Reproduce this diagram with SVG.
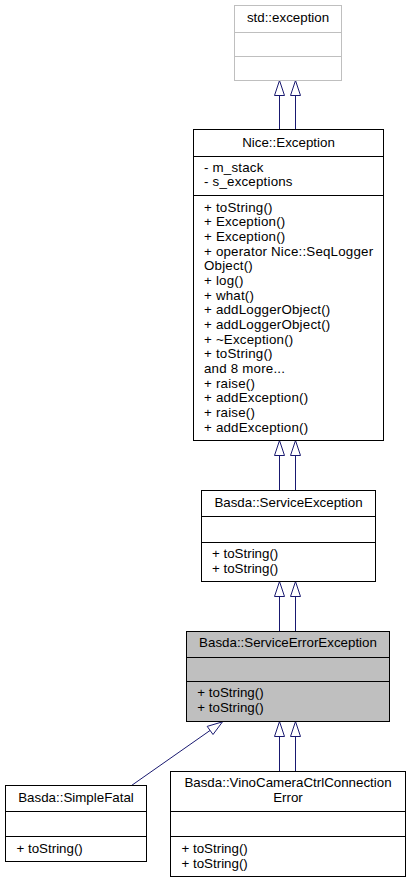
<svg xmlns="http://www.w3.org/2000/svg" width="411" height="883" viewBox="0 0 411 883">
<style>
text{font-family:"Liberation Sans",Arial,Helvetica,sans-serif;font-size:13.33px;fill:#000}
.c{text-anchor:middle}
.box{fill:#fff;stroke:#000;stroke-width:1}
.ext{fill:#fff;stroke:#bfbfbf;stroke-width:1}
.cur{fill:#bfbfbf;stroke:#000;stroke-width:1}
.div{stroke:#000;stroke-width:1}
.divx{stroke:#bfbfbf;stroke-width:1}
.edge{fill:none;stroke:#191970;stroke-width:1}
.head{fill:#fff;stroke:#191970;stroke-width:1}
.m{letter-spacing:0.2px}
</style>
<rect width="411" height="883" fill="#fff"/>
<g id="edges">
  <path class="edge" d="M279.5 129.5V95.5M295.5 129.5V95.5"/>
  <path class="head" d="M279.5 80.5L274.5 95.5H284.5Z"/>
  <path class="head" d="M295.5 80.5L290.5 95.5H300.5Z"/>
  <path class="edge" d="M279.5 490.5V455.5M295.5 490.5V455.5"/>
  <path class="head" d="M279.5 440.5L274.5 455.5H284.5Z"/>
  <path class="head" d="M295.5 440.5L290.5 455.5H300.5Z"/>
  <path class="edge" d="M279.5 631.5V596.5M295.5 631.5V596.5"/>
  <path class="head" d="M279.5 581.5L274.5 596.5H284.5Z"/>
  <path class="head" d="M295.5 581.5L290.5 596.5H300.5Z"/>
  <path class="edge" d="M279.5 771.5V736.5M295.5 771.5V736.5"/>
  <path class="head" d="M279.5 721.5L274.5 736.5H284.5Z"/>
  <path class="head" d="M295.5 721.5L290.5 736.5H300.5Z"/>
  <path class="edge" d="M131.5 785.5L210 730.5"/>
  <path class="head" d="M222.5 721.8L207.2 726.4L213.0 734.5Z"/>
</g>
<g id="std_exception">
  <rect class="ext" x="234.5" y="5.5" width="107" height="75"/>
  <path class="divx" d="M234.5 32.5H341.5M234.5 56.5H341.5"/>
  <text class="c" x="288" y="21.5">std::exception</text>
</g>
<g id="Nice_Exception">
  <rect class="box" x="193.5" y="129.5" width="190" height="311"/>
  <path class="div" d="M193.5 156.5H383.5M193.5 195.5H383.5"/>
  <text class="c" x="288.5" y="146.7">Nice::Exception</text>
  <text class="m" x="204" y="171.7">- m_stack</text>
  <text class="m" x="204" y="186.4">- s_exceptions</text>
  <text class="m" x="204" y="211.7">+ toString()</text>
  <text class="m" x="204" y="226.4">+ Exception()</text>
  <text class="m" x="204" y="241">+ Exception()</text>
  <text class="m" x="204" y="255.7">+ operator Nice::SeqLogger</text>
  <text class="m" x="204" y="270.4">Object()</text>
  <text class="m" x="204" y="285">+ log()</text>
  <text class="m" x="204" y="299.7">+ what()</text>
  <text class="m" x="204" y="314.4">+ addLoggerObject()</text>
  <text class="m" x="204" y="329">+ addLoggerObject()</text>
  <text class="m" x="204" y="343.7">+ ~Exception()</text>
  <text class="m" x="204" y="358.4">+ toString()</text>
  <text class="m" x="204" y="373">and 8 more...</text>
  <text class="m" x="204" y="387.7">+ raise()</text>
  <text class="m" x="204" y="402.4">+ addException()</text>
  <text class="m" x="204" y="417">+ raise()</text>
  <text class="m" x="204" y="431.7">+ addException()</text>
</g>
<g id="Basda_ServiceException">
  <rect class="box" x="201.5" y="490.5" width="174" height="91"/>
  <path class="div" d="M201.5 516.5H375.5M201.5 542.5H375.5"/>
  <text class="c" x="288.5" y="506.7">Basda::ServiceException</text>
  <text x="212" y="558.3">+ toString()</text>
  <text x="212" y="572.8">+ toString()</text>
</g>
<g id="Basda_ServiceErrorException">
  <rect class="cur" x="186.5" y="631.5" width="203" height="90"/>
  <path class="div" d="M186.5 657.5H389.5M186.5 681.5H389.5"/>
  <text class="c" x="288" y="647.3">Basda::ServiceErrorException</text>
  <text x="197.3" y="697.3">+ toString()</text>
  <text x="197.3" y="712">+ toString()</text>
</g>
<g id="Basda_SimpleFatal">
  <rect class="box" x="5.5" y="785.5" width="141" height="76"/>
  <path class="div" d="M5.5 811.5H146.5M5.5 836.5H146.5"/>
  <text class="c" x="76" y="801.7">Basda::SimpleFatal</text>
  <text x="16.5" y="853.3">+ toString()</text>
</g>
<g id="Basda_VinoCameraCtrlConnectionError">
  <rect class="box" x="170.5" y="771.5" width="235" height="105"/>
  <path class="div" d="M170.5 811.5H405.5M170.5 836.5H405.5"/>
  <text class="c" x="288" y="787.3">Basda::VinoCameraCtrlConnection</text>
  <text class="c" x="288" y="801.8">Error</text>
  <text x="181.5" y="853.3">+ toString()</text>
  <text x="181.5" y="867.6">+ toString()</text>
</g>
</svg>
